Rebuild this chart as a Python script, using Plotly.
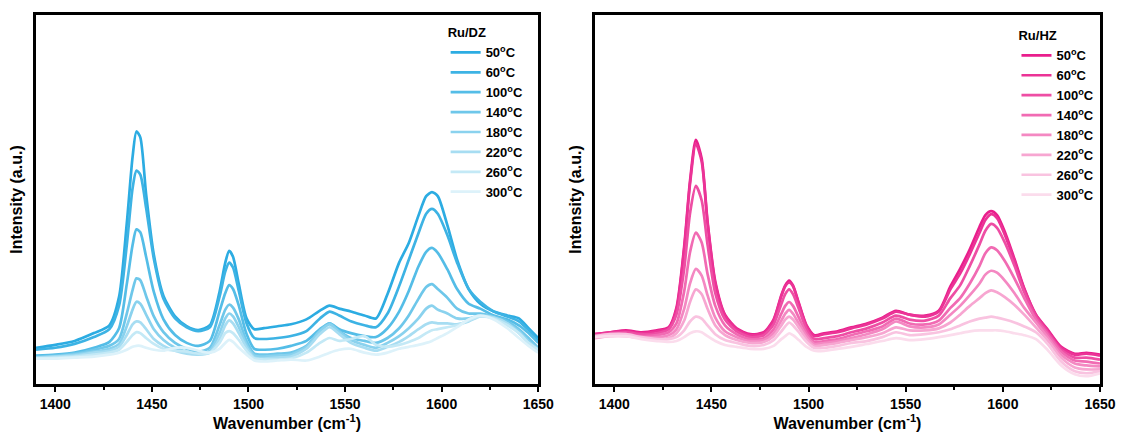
import plotly.graph_objects as go

# ---------------- data ----------------
temps = ["50", "60", "100", "140", "180", "220", "260", "300"]

wn_dz = [1390, 1400, 1410, 1420, 1428, 1433, 1437, 1440, 1442, 1444, 1447, 1451, 1456, 1462, 1468,
         1474, 1480, 1485, 1488, 1490, 1492, 1495, 1499, 1503, 1508, 1515, 1522, 1530, 1537, 1542,
         1547, 1553, 1560, 1566, 1572, 1578, 1583, 1588, 1592, 1595, 1598, 1603, 1608, 1614, 1620,
         1627, 1634, 1640, 1645, 1650]

dz_50 = [45, 48, 52, 60, 68, 97, 172, 240, 266, 260, 202, 140, 98, 77, 67, 63, 68, 102, 132, 144, 138, 110, 75, 64, 65,
         67, 69, 74, 83, 88, 85, 82, 78, 75, 100, 132, 152, 180, 200, 204, 200, 170, 135, 105, 90, 82, 78, 75, 65, 55]
dz_60 = [43, 45, 49, 56, 64, 88, 150, 208, 226, 222, 188, 136, 95, 75, 66, 62, 66, 97, 123, 132, 127, 103, 70, 55, 54,
         55, 57, 62, 75, 82, 78, 72, 68, 66, 80, 108, 135, 162, 182, 187, 182, 160, 132, 105, 92, 82, 77, 72, 63, 52]
dz_100 = [37, 38, 40, 45, 51, 65, 110, 150, 166, 163, 138, 102, 74, 58, 50, 47, 52, 82, 101, 109, 105, 88, 59, 44, 43,
          44, 47, 52, 64, 70, 64, 60, 57, 56, 65, 82, 103, 128, 143, 147, 142, 125, 105, 90, 85, 78, 74, 68, 60, 50]
dz_140 = [36, 37, 39, 43, 47, 54, 80, 104, 116, 114, 98, 77, 61, 50, 44, 41, 45, 68, 84, 89, 86, 74, 52, 39, 38,
          39, 40, 47, 63, 70, 62, 55, 52, 50, 55, 65, 78, 95, 107, 110, 105, 96, 85, 80, 80, 77, 72, 64, 55, 45]
dz_180 = [35, 36, 38, 41, 44, 49, 67, 84, 92, 90, 79, 64, 53, 45, 41, 39, 42, 60, 75, 80, 77, 66, 48, 37, 36,
          37, 38, 46, 62, 69, 61, 53, 48, 45, 50, 57, 65, 75, 85, 88, 84, 80, 75, 75, 78, 76, 70, 62, 52, 44]
dz_220 = [35, 36, 37, 40, 42, 46, 58, 69, 72, 71, 64, 54, 47, 42, 39, 38, 40, 54, 68, 73, 70, 60, 45, 35, 34,
          35, 36, 44, 59, 66, 59, 50, 45, 42, 46, 51, 57, 64, 69, 71, 70, 70, 69, 72, 77, 76, 70, 60, 50, 42]
dz_260 = [34, 35, 36, 38, 40, 43, 51, 58, 61, 60, 55, 49, 44, 42, 41, 39, 40, 50, 60, 62, 60, 53, 42, 34, 33,
          33, 34, 40, 50, 55, 52, 54, 57, 48, 46, 48, 51, 55, 60, 63, 64, 66, 68, 73, 77, 75, 68, 60, 50, 43]
dz_300 = [34, 34, 35, 36, 38, 40, 43, 46, 47, 47, 45, 43, 42, 45, 45, 42, 40, 44, 50, 53, 51, 45, 38, 32, 31,
          32, 33, 32, 36, 40, 43, 44, 40, 38, 40, 44, 46, 48, 50, 52, 55, 60, 66, 74, 78, 74, 65, 55, 47, 40]

wn_hz = [1390, 1398, 1406, 1414, 1422, 1428, 1432, 1436, 1439, 1442, 1445, 1448, 1452, 1457, 1463,
         1470, 1477, 1482, 1486, 1488, 1490, 1492, 1495, 1499, 1503, 1508, 1515, 1522, 1530, 1538,
         1545, 1552, 1560, 1567, 1573, 1578, 1583, 1588, 1591, 1594, 1597, 1601, 1606, 1611, 1617,
         1623, 1630, 1637, 1643, 1650]

hz_50 = [58, 60, 62, 60, 62, 65, 85, 148, 215, 257, 238, 174, 112, 78, 64, 58, 60, 73, 98, 108, 113, 108, 90, 67, 57,
         59, 61, 65, 69, 75, 82, 78, 77, 82, 107, 125, 145, 168, 180, 184, 180, 163, 135, 105, 78, 63, 45, 38, 39, 37]
hz_60 = [58, 60, 61, 59, 61, 64, 83, 145, 212, 253, 235, 172, 110, 77, 63, 57, 59, 72, 97, 107, 111, 107, 89, 66, 56,
         58, 60, 64, 68, 74, 81, 78, 76, 81, 104, 120, 140, 162, 175, 181, 177, 160, 133, 104, 78, 62, 44, 37, 38, 36]
hz_100 = [57, 59, 60, 58, 59, 63, 78, 125, 182, 210, 195, 150, 100, 73, 61, 55, 57, 68, 89, 99, 104, 99, 84, 63, 53,
          54, 56, 60, 64, 70, 77, 73, 72, 77, 95, 108, 128, 150, 164, 171, 167, 152, 128, 101, 76, 60, 42, 34, 34, 32]
hz_140 = [56, 58, 58, 56, 57, 60, 69, 102, 142, 162, 152, 120, 87, 67, 58, 53, 54, 63, 79, 87, 91, 87, 75, 59, 50,
          51, 53, 57, 61, 66, 74, 69, 68, 72, 85, 95, 110, 128, 141, 147, 144, 133, 115, 95, 73, 58, 40, 31, 30, 28]
hz_180 = [55, 57, 57, 55, 55, 57, 63, 84, 110, 125, 118, 98, 75, 61, 55, 51, 52, 59, 72, 79, 83, 79, 69, 56, 48,
          49, 51, 54, 58, 63, 71, 66, 65, 68, 78, 87, 98, 110, 119, 123, 121, 113, 100, 85, 70, 55, 37, 28, 26, 25]
hz_220 = [54, 56, 56, 54, 53, 54, 59, 72, 91, 104, 99, 84, 67, 57, 52, 49, 50, 56, 67, 73, 76, 73, 65, 53, 46,
          47, 49, 52, 55, 59, 65, 62, 62, 64, 70, 78, 87, 95, 100, 103, 101, 96, 88, 78, 65, 52, 34, 24, 22, 22]
hz_260 = [56, 58, 58, 55, 53, 53, 55, 62, 71, 76, 74, 67, 58, 52, 49, 46, 47, 52, 61, 66, 70, 67, 60, 50, 44,
          44, 46, 49, 51, 55, 60, 57, 58, 60, 63, 67, 71, 74, 75, 76, 75, 73, 70, 66, 60, 48, 30, 20, 18, 20]
hz_300 = [55, 56, 56, 53, 51, 50, 51, 55, 59, 61, 60, 56, 51, 47, 45, 43, 43, 46, 53, 56, 59, 57, 52, 45, 41,
          41, 43, 45, 48, 51, 54, 52, 53, 55, 57, 59, 61, 62, 62, 62, 62, 61, 59, 57, 53, 42, 26, 17, 15, 18]

x_ticks = [1400, 1450, 1500, 1550, 1600, 1650]

dz_series = [dz_50, dz_60, dz_100, dz_140, dz_180, dz_220, dz_260, dz_300]
hz_series = [hz_50, hz_60, hz_100, hz_140, hz_180, hz_220, hz_260, hz_300]

blue_cols = ["#2CACE2", "#3DB3E4", "#54BDE7", "#6EC7EA", "#8AD2EE", "#A7DDF2", "#C4E9F6", "#DDF2FA"]
pink_cols = ["#E91E8C", "#EB3396", "#EE4EA4", "#F16BB3", "#F488C2", "#F7A6D1", "#F9C3E0", "#FBDCEC"]

FONT = "Liberation Sans, Arial, sans-serif"

fig = go.Figure()
for t, ys, c in zip(temps, dz_series, blue_cols):
    fig.add_trace(go.Scatter(x=wn_dz, y=ys, mode="lines", name=f"<b>{t}<sup>o</sup>C</b>",
                             line=dict(color=c, width=2.7, shape="spline", smoothing=0.7),
                             xaxis="x", yaxis="y", legend="legend"))
for t, ys, c in zip(temps, hz_series, pink_cols):
    fig.add_trace(go.Scatter(x=wn_hz, y=ys, mode="lines", name=f"<b>{t}<sup>o</sup>C</b>",
                             line=dict(color=c, width=2.7, shape="spline", smoothing=0.7),
                             xaxis="x2", yaxis="y2", legend="legend2"))

xcommon = dict(range=[1390, 1650], tickmode="array", tickvals=x_ticks,
               ticktext=[f"<b>{v}</b>" for v in x_ticks],
               ticks="outside", ticklen=5, tickwidth=2, tickcolor="black",
               minor=dict(ticks="outside", ticklen=3, tickwidth=2, tickcolor="black",
                          tickmode="array", tickvals=[1425, 1475, 1525, 1575, 1625]),
               showline=True, linewidth=3, linecolor="black", mirror=True,
               showgrid=False, zeroline=False,
               tickfont=dict(family=FONT, size=14, color="black"),
               title=dict(text="<b>Wavenumber (cm<sup>-1</sup>)</b>", standoff=6,
                          font=dict(family=FONT, size=16, color="black")))
ycommon = dict(showticklabels=False, ticks="", showline=True, linewidth=3, linecolor="black",
               mirror=True, showgrid=False, zeroline=False,
               title=dict(text="<b>Intensity (a.u.)</b>", standoff=7,
                          font=dict(family=FONT, size=16, color="black")))

legcommon = dict(xanchor="left", yanchor="top", bgcolor="rgba(0,0,0,0)", borderwidth=0,
                 font=dict(family=FONT, size=13, color="black"), tracegroupgap=0)

fig.update_layout(
    width=1128, height=441,
    margin=dict(l=36, r=22, t=15, b=49),
    paper_bgcolor="white", plot_bgcolor="white",
    xaxis=dict(domain=[0, 0.472], anchor="y", **xcommon),
    yaxis=dict(domain=[0, 1], anchor="x", range=[8, 385], **ycommon),
    xaxis2=dict(domain=[0.5252, 1.0], anchor="y2", **xcommon),
    yaxis2=dict(domain=[0, 1], anchor="x2", range=[7, 385], **ycommon),
    legend=dict(x=0.385, y=0.985, title=dict(text="<b>Ru/DZ</b>", font=dict(family=FONT, size=13, color="black")),
                **legcommon),
    legend2=dict(x=0.9215, y=0.977, title=dict(text="<b>Ru/HZ</b>", font=dict(family=FONT, size=13, color="black")),
                 **legcommon),
)

fig.write_html("out.html")
